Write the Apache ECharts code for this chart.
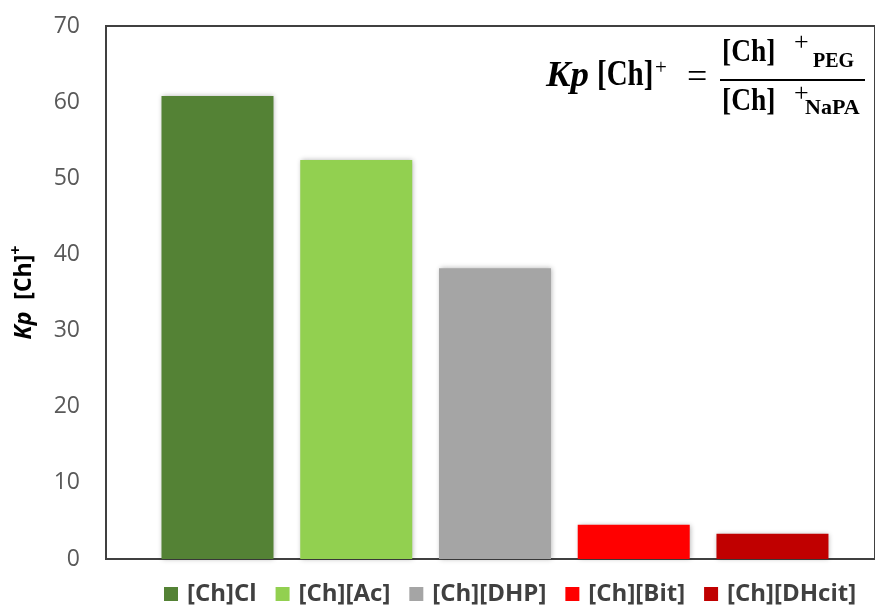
<!DOCTYPE html>
<html>
<head>
<meta charset="utf-8">
<script src="https://cdn.jsdelivr.net/npm/echarts@6/dist/echarts.min.js"></script>
<style>html,body{margin:0;padding:0;background:#fff}#c{width:875px;height:607px}</style>
</head>
<body>
<div id="c"></div>
<script>
const categories = ['[Ch]Cl', '[Ch][Ac]', '[Ch][DHP]', '[Ch][Bit]', '[Ch][DHcit]'];
const values = [60.8, 52.4, 38.2, 4.5, 3.3];
const colors = ['#548235', '#92d050', '#a5a5a5', '#ff0000', '#c00000'];
const yTicks = [0, 10, 20, 30, 40, 50, 60, 70];

const chart = echarts.init(document.getElementById('c'));
const serif = '"Liberation Serif", "DejaVu Serif", serif';
const sans = '"Open Sans", sans-serif';
const series = categories.map((name, i) => ({
  name: name,
  type: 'bar',
  barWidth: 112,
  barGap: '-100%',
  itemStyle: { color: colors[i], shadowBlur: 5, shadowColor: 'rgba(0,0,0,0.3)', shadowOffsetX: 1, shadowOffsetY: 0 },
  data: [[i, values[i]]]
}));

function t(text, left, cy, size, opts, sx, sy) {
  return { type: 'text', x: left, y: cy, scaleX: sx || 1, scaleY: sy || 1, style: Object.assign({
    text: text, fontSize: size, fontWeight: 'bold', fontFamily: serif, fill: '#000',
    textVerticalAlign: 'middle'
  }, opts || {}) };
}

chart.setOption({
  animation: false,
  grid: { left: 106, right: 0, top: 26, bottom: 48, show: true, borderColor: '#404040', borderWidth: 2 },
  xAxis: { type: 'value', min: -0.8036, max: 4.739, show: false },
  yAxis: {
    type: 'value', min: yTicks[0], max: yTicks[yTicks.length - 1], interval: 10,
    splitLine: { show: false }, axisLine: { show: false }, axisTick: { show: false },
    axisLabel: { color: '#595959', fontSize: 23, margin: 26, fontFamily: sans },
    name: '{i|Kp}{b|  [Ch]}{s|+}',
    nameLocation: 'middle', nameGap: 66, nameRotate: 90,
    nameTextStyle: {
      rich: {
        i: { fontSize: 23, fontWeight: 'bold', fontStyle: 'italic', color: '#000', fontFamily: sans },
        b: { fontSize: 23, fontWeight: 'bold', color: '#000', fontFamily: sans },
        s: { fontSize: 16, fontWeight: 'bold', color: '#000', verticalAlign: 'top', padding: [0, 0, 16, 0], fontFamily: sans }
      }
    }
  },
  legend: {
    top: 582, left: 164, padding: 0, itemWidth: 14, itemHeight: 14, itemGap: 19,
    icon: 'rect',
    textStyle: { fontSize: 24, color: '#404040', fontWeight: 'bold', fontFamily: sans, padding: [0, 0, 0, 4] },
    data: categories
  },
  graphic: [
    t('Kp', 546, 77, 32, { fontStyle: 'italic' }, 1.15, 1.1),
    t('[Ch]', 597, 76, 29, null, 1, 1.26),
    t('+', 655, 68, 21, { fontWeight: 'normal' }),
    t('=', 687, 79, 36, { fontWeight: 'normal' }),
    { type: 'line', shape: { x1: 720, y1: 80, x2: 865, y2: 80 }, style: { stroke: '#000', lineWidth: 2 } },
    t('[Ch]', 722, 53, 27.5, null, 1, 1.14),
    t('+', 794, 43, 26, { fontWeight: 'normal' }),
    t('PEG', 813, 62, 20),
    t('[Ch]', 722, 102, 27.5, null, 1, 1.14),
    t('+', 794, 94, 26, { fontWeight: 'normal' }),
    t('NaPA', 805, 109, 21, null, 1.05, 1)
  ],
  series: series
});
</script>
</body>
</html>
